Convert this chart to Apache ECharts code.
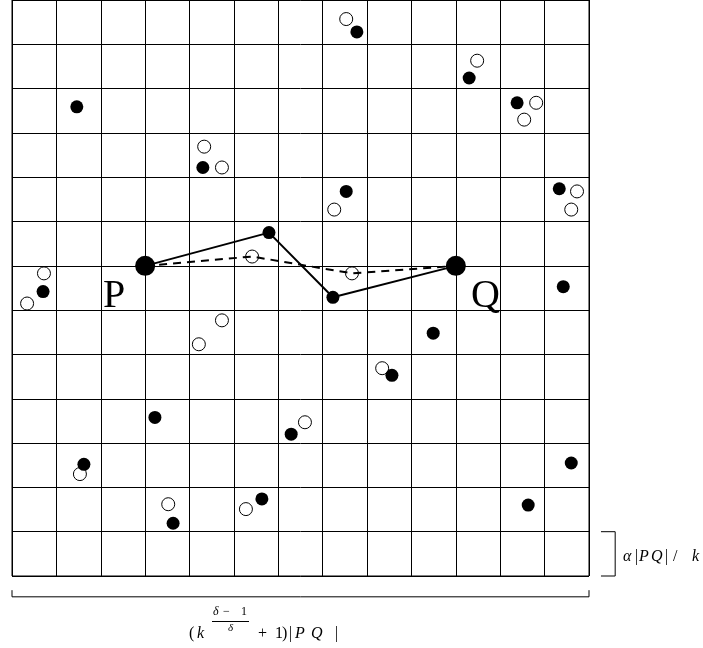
<!DOCTYPE html>
<html>
<head>
<meta charset="utf-8">
<script src="https://cdn.jsdelivr.net/npm/echarts@6/dist/echarts.min.js"></script>
<style>
  html, body { margin: 0; padding: 0; background: #fff; }
  #chart { width: 703px; height: 648px; }
</style>
</head>
<body>
<div id="chart"></div>
<script>
// grid units: one cell = 1, y counted from the bottom edge
const gridCells = 13

const endPoints = [[3, 7], [10, 7]]

const filledPts = [
  [7.77, 12.28], [10.30, 11.24], [1.46, 10.59], [11.38, 10.68],
  [4.30, 9.22], [7.53, 8.68], [12.33, 8.74], [5.79, 7.75],
  [7.23, 6.29], [0.70, 6.42], [12.42, 6.53], [9.49, 5.48],
  [8.56, 4.53], [3.22, 3.58], [6.29, 3.20], [1.62, 2.52],
  [12.60, 2.55], [5.63, 1.74], [3.63, 1.19], [11.63, 1.60]
]

const openPts = [
  [7.53, 12.57], [10.48, 11.63], [11.81, 10.68], [11.54, 10.30],
  [4.33, 9.69], [4.73, 9.22], [7.26, 8.27], [12.73, 8.68],
  [12.60, 8.27], [5.41, 7.21], [7.66, 6.83], [0.72, 6.83],
  [0.34, 6.15], [4.73, 5.77], [4.21, 5.23], [8.34, 4.69],
  [6.60, 3.47], [1.53, 2.30], [3.52, 1.62], [5.27, 1.51]
]

const solidPath = [[3, 7], [5.79, 7.75], [7.23, 6.29], [10, 7]]
const dashedPath = [[3, 7], [5.41, 7.21], [7.66, 6.83], [10, 7]]

// dimension brackets (outside the grid), in grid units
const bottomBracket = [[0, -0.32], [0, -0.47], [13, -0.47], [13, -0.32]]
const rightBracket = [[13.27, 1], [13.59, 1], [13.59, 0], [13.27, 0]]

const chart = echarts.init(document.getElementById('chart'))

const serif = '"Liberation Serif", "DejaVu Serif", serif'

function piece(text, x, y, size, italic) {
  return {
    type: 'text',
    x: x,
    y: y,
    z: 10,
    style: {
      text: text,
      font: (italic ? 'italic ' : '') + size + 'px ' + serif,
      fill: '#000',
      align: 'left',
      verticalAlign: 'middle'
    }
  }
}

chart.setOption({
  animation: false,
  grid: {
    left: 12,
    top: -1,
    width: 577,
    height: 577,
    show: true,
    borderColor: '#000',
    borderWidth: 1
  },
  xAxis: {
    type: 'value',
    min: 0,
    max: gridCells,
    interval: 1,
    axisLine: { show: false },
    axisTick: { show: false },
    axisLabel: { show: false },
    splitLine: { show: true, lineStyle: { color: '#000', width: 1 } }
  },
  yAxis: {
    type: 'value',
    min: 0,
    max: gridCells,
    interval: 1,
    axisLine: { show: false },
    axisTick: { show: false },
    axisLabel: { show: false },
    splitLine: { show: true, lineStyle: { color: '#000', width: 1 } }
  },
  series: [
    {
      type: 'scatter',
      data: openPts,
      symbol: 'circle',
      symbolSize: 13,
      z: 2,
      itemStyle: { color: '#fff', borderColor: '#000', borderWidth: 1, opacity: 1 }
    },
    {
      type: 'line',
      data: solidPath,
      showSymbol: false,
      z: 3,
      lineStyle: { color: '#000', width: 2 }
    },
    {
      type: 'line',
      data: dashedPath,
      showSymbol: false,
      z: 3,
      lineStyle: { color: '#000', width: 2, type: [8, 6] }
    },
    {
      type: 'scatter',
      data: filledPts,
      symbol: 'circle',
      symbolSize: 13,
      z: 4,
      itemStyle: { color: '#000', opacity: 1 }
    },
    {
      type: 'scatter',
      data: endPoints,
      symbol: 'circle',
      symbolSize: 20,
      z: 5,
      itemStyle: { color: '#000', opacity: 1 }
    }
  ]
})

const toPx = pts => pts.map(p => chart.convertToPixel({ gridIndex: 0 }, p))

chart.setOption({
  graphic: [
    {
      type: 'polyline',
      shape: { points: toPx(bottomBracket) },
      style: { stroke: '#000', lineWidth: 1, fill: null }
    },
    {
      type: 'polyline',
      shape: { points: toPx(rightBracket) },
      style: { stroke: '#000', lineWidth: 1, fill: null }
    },
    { type: 'text', left: 103, top: 276, style: { text: 'P', font: '40px ' + serif, fill: '#000' } },
    { type: 'text', left: 471, top: 276, style: { text: 'Q', font: '40px ' + serif, fill: '#000' } },
    // bottom formula
    piece('(', 189, 634, 16, false),
    piece('k', 197, 634, 16, true),
    piece('δ', 213, 612, 12, true),
    piece('−', 223, 612, 12, false),
    piece('1', 241, 612, 12, false),
    { type: 'rect', x: 212, y: 621, shape: { width: 37, height: 1 }, style: { fill: '#000' } },
    piece('δ', 228, 628, 11, true),
    piece('+', 258, 634, 16, false),
    piece('1', 275, 634, 16, false),
    piece(')', 282, 634, 16, false),
    piece('|', 289, 634, 16, false),
    piece('P', 295, 634, 16, true),
    piece('Q', 311, 634, 16, true),
    piece('|', 335, 634, 16, false),
    // right formula
    piece('α', 623, 557, 16, true),
    piece('|', 635, 557, 16, false),
    piece('P', 639, 557, 16, true),
    piece('Q', 651, 557, 16, true),
    piece('|', 665, 557, 16, false),
    piece('/', 673, 557, 16, false),
    piece('k', 692, 557, 16, true)
  ]
})
</script>
</body>
</html>
